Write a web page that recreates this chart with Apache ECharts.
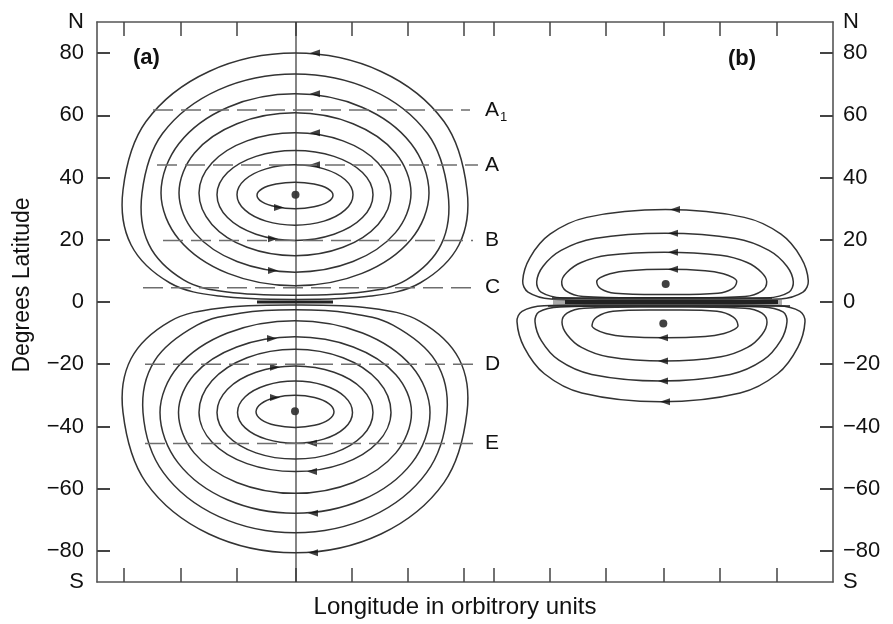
<!DOCTYPE html>
<html><head><meta charset="utf-8">
<script src="https://cdn.jsdelivr.net/npm/echarts@6/dist/echarts.min.js"></script>
<style>html,body{margin:0;padding:0;background:#fff}#c{width:893px;height:624px}</style>
</head><body><div id="c"></div>
<script>
// ---- axis ticks / labels ----
const yLabelValues = [-90,-80,-60,-40,-20,0,20,40,60,80,90];
const yTickValues = [-80,-60,-40,-20,0,20,40,60,80];
const xTicksA = [124,181,237,296,352,408,464];
const xTicksB = [494,550,606,664,720,777];

// ---- panel (a) northern cell streamlines [longitude unit, latitude] ----
const ringsNorthA = [
 [[295,80],[381,74.1],[444,58],[467,36],[459,18.4],[420,6.1],[371,1.9],[295,0.8],[219,1.9],[170,6.1],[131,18.4],[123,36],[146,58],[209,74.1]],
 [[295,73.3],[371.5,68.2],[427.5,54.15],[448,35],[441.3,18.6],[406.4,7.1],[362.8,3.2],[295,2.2],[227.2,3.2],[183.6,7.1],[148.7,18.6],[142,35],[162.5,54.15],[218.5,68.2]],
 [[295,66.9],[362,62.6],[411,50.95],[429,35],[411,20.1],[362,9.2],[295,5.2],[228,9.2],[179,20.1],[161,35],[179,50.95],[228,62.6]],
 [[295,60.8],[353,57.3],[395.5,47.9],[411,35],[395.5,22.3],[353,13],[295,9.6],[237,13],[194.5,22.3],[179,35],[194.5,47.9],[237,57.3]],
 [[295,54.4],[343,51.8],[378.1,44.7],[391,35],[378.1,24.95],[343,17.6],[295,14.9],[247,17.6],[211.9,24.95],[199,35],[211.9,44.7],[247,51.8]],
 [[295,48.7],[334,46.8],[362.5,41.6],[373,34.5],[362.5,27.15],[334,21.8],[295,19.8],[256,21.8],[227.5,27.15],[217,34.5],[227.5,41.6],[256,46.8]],
 [[295,44.1],[324,42.8],[345.2,39.3],[353,34.5],[345.2,29.6],[324,26.0],[295,24.7],[266,26.0],[244.8,29.6],[237,34.5],[244.8,39.3],[266,42.8]],
 [[295,38.5],[314,37.9],[327.9,36.4],[333,34.3],[327.9,32.15],[314,30.6],[295,30.0],[276,30.6],[262.1,32.15],[257,34.3],[262.1,36.4],[276,37.9]]
];
// ---- panel (a) southern cell ----
const ringsSouthA = [
 [[295,-80.6],[381,-74.56],[444,-58.05],[467,-35.5],[459,-18.25],[420,-6.2],[371,-2.0],[295,-1.0],[219,-2.0],[170,-6.2],[131,-18.25],[123,-35.5],[146,-58.05],[209,-74.56]],
 [[295,-74.2],[371,-69.0],[426.6,-54.85],[447,-35.5],[435.6,-19.0],[393,-7.45],[348.4,-3.5],[295,-2.5],[241.6,-3.5],[197,-7.45],[154.4,-19.0],[143,-35.5],[163.4,-54.85],[219,-69.0]],
 [[295,-67.9],[362.5,-63.56],[411.9,-51.7],[430,-35.5],[411.9,-20.75],[362.5,-9.95],[295,-6.0],[227.5,-9.95],[178.1,-20.75],[160,-35.5],[178.1,-51.7],[227.5,-63.56]],
 [[295,-61.5],[353.25,-58.0],[395.9,-48.5],[411.5,-35.5],[395.9,-23.35],[353.25,-14.46],[295,-11.2],[236.75,-14.46],[194.1,-23.35],[178.5,-35.5],[194.1,-48.5],[236.75,-58.0]],
 [[295,-54.5],[343,-51.95],[378.1,-45.0],[391,-35.5],[378.1,-25.35],[343,-17.92],[295,-15.2],[247,-17.92],[211.9,-25.35],[199,-35.5],[211.9,-45.0],[247,-51.95]],
 [[295,-50.5],[334,-48.5],[362.5,-43.0],[373,-35.5],[362.5,-28.05],[334,-22.6],[295,-20.6],[256,-22.6],[227.5,-28.05],[217,-35.5],[227.5,-43.0],[256,-48.5]],
 [[295,-45.4],[323.75,-44.07],[344.8,-40.45],[352.5,-35.5],[344.8,-30.45],[323.75,-26.75],[295,-25.4],[266.25,-26.75],[245.2,-30.45],[237.5,-35.5],[245.2,-40.45],[266.25,-44.07]],
 [[295,-40.3],[314.5,-39.63],[328.8,-37.8],[334,-35.3],[328.8,-32.65],[314.5,-30.71],[295,-30.0],[275.5,-30.71],[261.2,-32.65],[256,-35.3],[261.2,-37.8],[275.5,-39.63]]
];
// ---- panel (b) cells ----
const ringsNorthB = [
 [[665.5,29.7],[744.3,27.2],[781,21.8],[801,14.3],[808.3,6.8],[803,3.2],[780,1.0],[665.5,0.5],[551,1.0],[528,3.2],[522.7,6.8],[530,14.3],[550,21.8],[586.7,27.2]],
 [[665,22.1],[735.6,20.4],[768.9,16.6],[786.9,11.5],[793.3,6.5],[789,3.2],[767,1.3],[665,0.9],[563,1.3],[541,3.2],[536.7,6.5],[543.1,11.5],[561.1,16.6],[594.4,20.4]],
 [[664.2,16.0],[720.6,15.0],[747.2,12.7],[761.6,9.5],[766.7,6.5],[762,3.6],[745,1.8],[664.2,1.4],[583,1.8],[566,3.6],[561.7,6.5],[566.8,9.5],[581.2,12.7],[607.8,15.0]],
 [[666.7,10.5],[705.2,10.06],[723.4,9.1],[733.2,7.8],[736.7,6.5],[732,4.2],[718,2.8],[666.7,2.4],[615,2.8],[601,4.2],[596.7,6.5],[600.2,7.8],[610,9.1],[628.2,10.06]]
];
const ringsSouthB = [
 [[661,-32.1],[740.2,-29.26],[777.6,-23.07],[797.8,-14.56],[805,-6.3],[800,-3.0],[778,-1.2],[661,-0.8],[544,-1.2],[522,-3.0],[517,-6.3],[524.2,-14.56],[544.4,-23.07],[581.8,-29.26]],
 [[661,-25.4],[730.3,-23.3],[763.1,-18.72],[780.7,-12.41],[787,-6.3],[783,-3.2],[762,-1.6],[661,-1.2],[560,-1.6],[539,-3.2],[535,-6.3],[541.3,-12.41],[558.9,-18.72],[591.7,-23.3]],
 [[664.5,-19.0],[720.9,-17.6],[747.5,-14.6],[761.9,-10.5],[767,-6.5],[762,-3.6],[745,-2.0],[664.5,-1.6],[584,-2.0],[567,-3.6],[562,-6.5],[567.1,-10.5],[581.5,-14.6],[608.1,-17.6]],
 [[665,-11.5],[705.2,-11.06],[724.1,-10.1],[734.4,-8.8],[738,-7.5],[733,-4.8],[717,-3.0],[665,-2.6],[613,-3.0],[597,-4.8],[592,-7.5],[595.6,-8.8],[605.9,-10.1],[624.8,-11.06]]
];
// ---- cell centres, arrows ----
const cellCentres = [[295.5,34.5],[295,-35.1],[665.7,5.8],[663.3,-6.9]];
const arrowsWest = [[315,80],[315,66.9],[315,54.4],[315,44.1],[313,-80.6],[313,-67.9],[312,-54.5],[312,-45.4],
                    [675,29.7],[673,22.1],[673,16.0],[673,10.5],[663,-11.5],[663,-19.0],[663,-25.4],[665,-32.1]];
const arrowsEast = [[273,20.3],[273,10.1],[279,30.4],[272,-11.7],[275,-21.0],[275,-30.7]];
// ---- section lines (a) ----
const sectionNames = ['A1','A','B','C','D','E'];
const sectionLats = [61.7,44.0,19.8,4.6,-20.0,-45.5];
const sectionStart = [153,157,163,143,145,145];
const sectionEnd = [470,478,473,472,476,474];
const sectionLabelX = 485;
// ---- equatorial bundles ----
const bundleA = [[257,0],[333,0]];
const bundleB = [[[552,1.3],[772,1.3]],[[565,0],[778,0]],[[548,-1.3],[790,-1.3]]];
const bundleBHalo = [[553,0],[782,0]];
const meridianA = [[296,-90],[296,90]];

const allRings = ringsNorthA.concat(ringsSouthA, ringsNorthB, ringsSouthB);
const FONT = 'Liberation Sans, Arial, sans-serif';
const INK = '#333';

const chart = echarts.init(document.getElementById('c'), null, {renderer:'canvas'});
const series = [];
series.push({
  type:'custom', silent:true, clip:false,
  data: allRings.map((r,i)=>[r[0][0], r[0][1], i]),
  encode:{x:0,y:1},
  renderItem:(params, api)=>{
    const ring = allRings[api.value(2)];
    return {type:'polygon', shape:{points: ring.map(p=>api.coord(p)), smooth:0.35},
            style:{fill:null, stroke:INK, lineWidth:1.5}};
  }
});
series.push({type:'line', data:meridianA, symbol:'none', silent:true, lineStyle:{color:'#333', width:1.2}});
sectionLats.forEach((lat,i)=>{
  series.push({type:'line', data:[[sectionStart[i],lat],[sectionEnd[i],lat]], symbol:'none', silent:true,
    lineStyle:{color:'#6e6e6e', width:1.5, type:[20,8]}});
});
series.push({type:'custom', silent:true, clip:false,
  data: sectionNames.map((n,i)=>[sectionLabelX, sectionLats[i], i]),
  encode:{x:0,y:1},
  renderItem:(params, api)=>{
    const p = api.coord([api.value(0), api.value(1)]);
    const name = sectionNames[api.value(2)];
    const children = [{type:'text', x:p[0], y:p[1], style:{text:name.charAt(0), font:'21px '+FONT, fill:'#111', align:'left', verticalAlign:'middle'}}];
    if (name.length > 1) {
      children.push({type:'text', x:p[0]+15, y:p[1]+7, style:{text:name.slice(1), font:'13px '+FONT, fill:'#111', align:'left', verticalAlign:'middle'}});
    }
    return {type:'group', children};
  }
});
series.push({type:'line', data:bundleA, symbol:'none', silent:true, lineStyle:{color:'#222', width:3}});
series.push({type:'line', data:bundleBHalo, symbol:'none', silent:true, lineStyle:{color:'#666', width:8, opacity:0.55}});
bundleB.forEach((seg,i)=>{
  series.push({type:'line', data:seg, symbol:'none', silent:true, lineStyle:{color:'#222', width: i===1?4:1.5}});
});
series.push({type:'scatter', data:cellCentres, symbol:'circle', symbolSize:8, silent:true, itemStyle:{color:'#111'}});
series.push({type:'scatter', data:arrowsWest, symbol:'triangle', symbolSize:[7,10], symbolRotate:90, silent:true, itemStyle:{color:'#111'}});
series.push({type:'scatter', data:arrowsEast, symbol:'triangle', symbolSize:[7,10], symbolRotate:-90, silent:true, itemStyle:{color:'#111'}});

const axisLine = {show:true, onZero:false, lineStyle:{color:'#555', width:1.6}};
const xAxisBase = (pos)=>({type:'value', position:pos, min:97, max:833, axisLine,
  axisTick:{show:true, inside:true, length:14, customValues: xTicksA.concat(xTicksB), lineStyle:{color:'#444', width:1.5}},
  axisLabel:{show:false}, splitLine:{show:false}});
const yLab = v => v===90 ? 'N' : v===-90 ? 'S' : (v%20!==0 ? '' : (v<0 ? '\u2212'+(-v) : String(v)));
const yAxisBase = (pos)=>({type:'value', position:pos, min:-90, max:90, interval:10, axisLine,
  axisTick:{show:true, inside:true, length:13, customValues:yTickValues, lineStyle:{color:'#444', width:2}},
  axisLabel:{show:true, customValues:yLabelValues, showMinLabel:true, showMaxLabel:true, formatter:yLab,
    color:'#111', fontFamily:FONT, fontSize:22, margin: pos==='left'?13:10},
  splitLine:{show:false}});

chart.setOption({
  animation:false,
  backgroundColor:'#fff',
  grid:{left:97, right:60, top:22, bottom:42, containLabel:false},
  xAxis:[xAxisBase('bottom'), xAxisBase('top')],
  yAxis:[yAxisBase('left'), yAxisBase('right')],
  series,
  graphic:[
    {type:'text', left:133, top:47, style:{text:'(a)', font:'bold 22px '+FONT, fill:'#111'}},
    {type:'text', left:728, top:48, style:{text:'(b)', font:'bold 22px '+FONT, fill:'#111'}},
    {type:'text', x:23, y:285, rotation:Math.PI/2, style:{text:'Degrees Latitude', font:'23px '+FONT, fill:'#111', align:'center', verticalAlign:'middle'}},
    {type:'text', x:455, y:607, style:{text:'Longitude in orbitrory units', font:'24px '+FONT, fill:'#111', align:'center', verticalAlign:'middle'}}
  ]
});
</script></body></html>
